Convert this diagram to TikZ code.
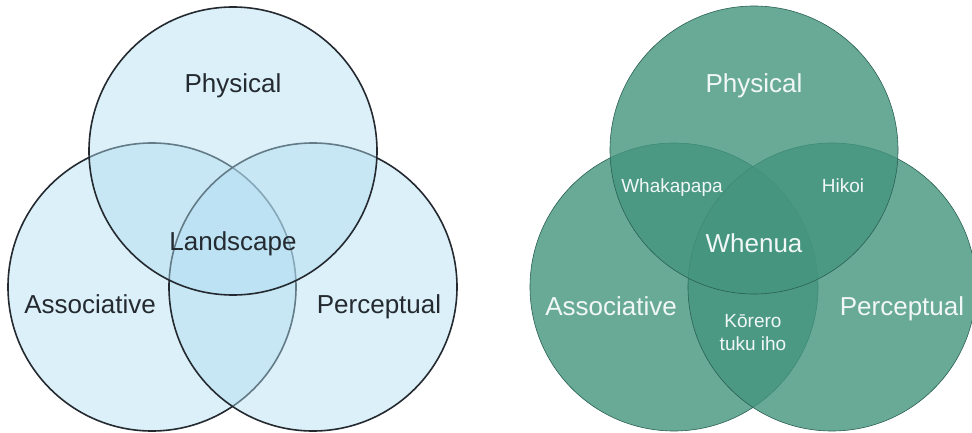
\documentclass[tikz,border=0pt]{standalone}
\usepackage{fontspec}
\setmainfont{Liberation Sans}
\definecolor{paleblue}{RGB}{176,222,242}
\definecolor{inkgray}{RGB}{36,42,48}
\definecolor{vennteal}{RGB}{68,149,126}
\definecolor{darkteal}{RGB}{42,96,82}
\usetikzlibrary{positioning}

\begin{document}
\begin{tikzpicture}[x=1pt, y=-1pt,
    bluering/.style={circle, draw=inkgray, line width=1.6pt, fill=paleblue,
                     fill opacity=0.45, minimum size=288pt, inner sep=0pt},
    tealring/.style={circle, draw=darkteal, line width=0.6pt, fill=vennteal,
                     fill opacity=0.8, minimum size=288pt, inner sep=0pt},
    biglabel/.style={anchor=base, font=\fontsize{26}{28}\selectfont},
    darklabel/.style={biglabel, text=inkgray},
    lightlabel/.style={biglabel, text=white!92!vennteal},
    smalllabel/.style={text=white!92!vennteal, align=center,
                       font=\fontsize{19}{23}\selectfont}]
    \useasboundingbox[fill=white] (0,0) rectangle (972,433);

    % Left diagram: light blue rings, drawn left, right, top
    \node[bluering] (assocA) at (152,287) {};
    \node[bluering] (percA)  at (313,287) {};
    \node[bluering] (physA)  at (233,151) {};

    \node[darklabel] (physAtxt)  at (233,93)  {Physical};
    \node[darklabel] (landAtxt)  at (233,250) {Landscape};
    \node[darklabel] (assocAtxt) at (90,313)  {Associative};
    \node[darklabel] (percAtxt)  at (379,313) {Perceptual};

    % Right diagram: teal rings, same order
    \node[tealring] (assocB) at (674,287) {};
    \node[tealring] (percB)  at (832,287) {};
    \node[tealring] (physB)  at (754,150) {};

    \node[lightlabel] (physBtxt)  at (754,93)  {Physical};
    \node[lightlabel] (whenBtxt)  at (754,252) {Whenua};
    \node[lightlabel] (assocBtxt) at (611,315) {Associative};
    \node[lightlabel] (percBtxt)  at (902,315) {Perceptual};

    % Pairwise overlaps
    \node[smalllabel, anchor=base] (whakBtxt) at (672,192) {Whakapapa};
    \node[smalllabel, anchor=base] (hikoBtxt) at (843,192) {Hikoi};
    \node[smalllabel] (koreBtxt) at (753,333) {Kōrero\\tuku iho};
\end{tikzpicture}
\end{document}
